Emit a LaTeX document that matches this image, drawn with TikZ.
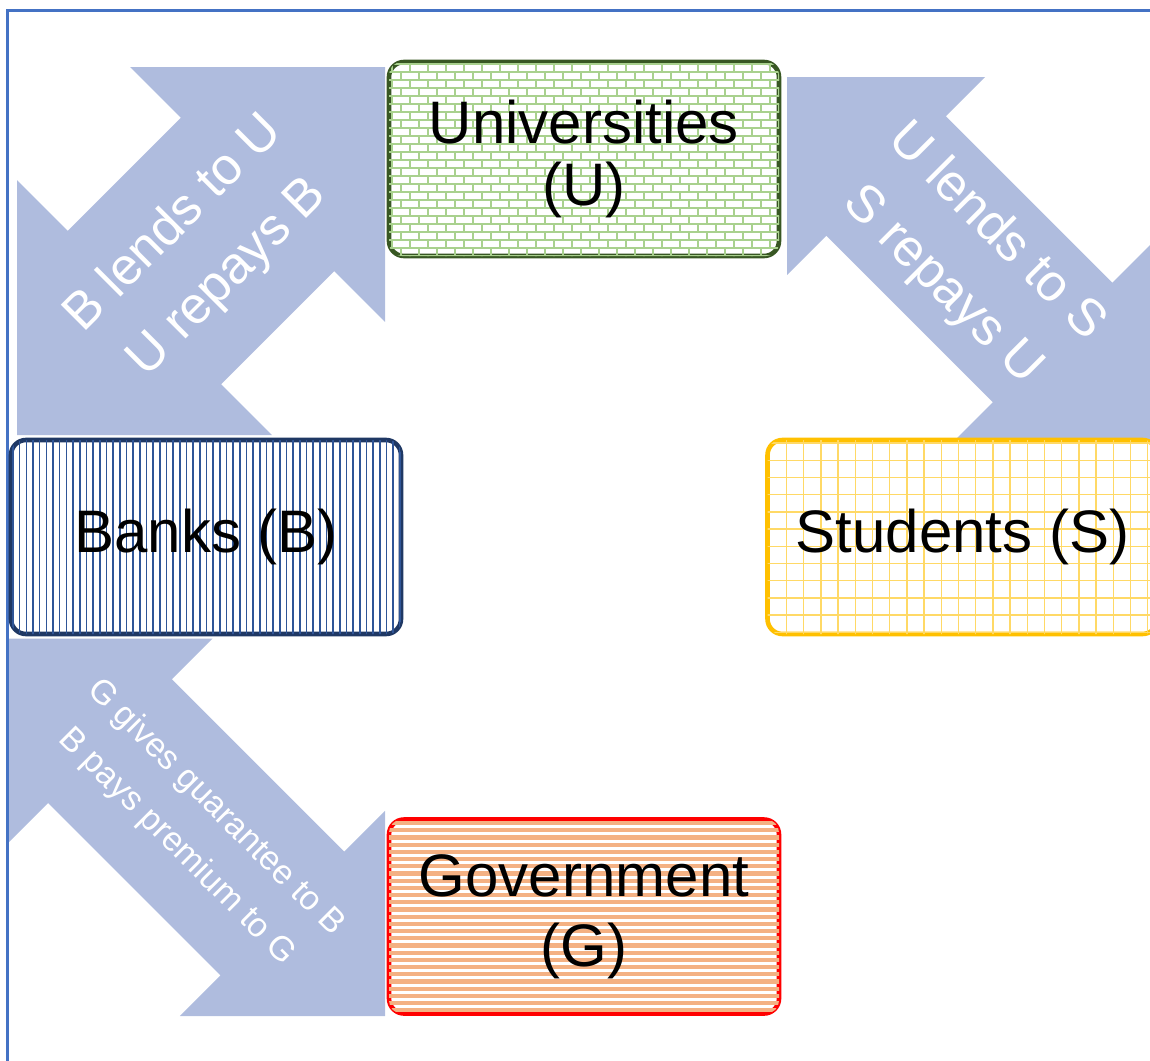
\documentclass[tikz,border=0pt]{standalone}
\usepackage{fontspec}
\setmainfont{Liberation Sans}
\usetikzlibrary{calc}

\definecolor{flowblue}{RGB}{175,188,222}
\definecolor{frameblue}{RGB}{68,114,196}
\definecolor{uniedge}{RGB}{56,87,35}
\definecolor{unibrick}{RGB}{169,209,142}
\definecolor{bankedge}{RGB}{31,56,100}
\definecolor{bankline}{RGB}{47,85,151}
\definecolor{studedge}{RGB}{255,192,0}
\definecolor{studgrid}{RGB}{255,217,102}
\definecolor{govedge}{RGB}{255,0,0}
\definecolor{govline}{RGB}{244,177,131}

\tikzset{
  party/.style={draw, fill=white, line width=2.3pt, rounded corners=7.5pt,
    minimum width=195pt, minimum height=97pt, inner sep=0pt,
    align=center, font=\fontsize{30}{31}\selectfont},
  flow/.style={fill=flowblue},
  flowtext/.style={text=white, align=center, font=\fontsize{26}{38}\selectfont},
  frame/.style={draw=frameblue, line width=1.1pt}
}

% double block arrow: tip, tip, head length, half shaft width
\newcommand{\twoway}[4]{%
  \coordinate (h1) at ($(#1)!#3!(#2)$);
  \coordinate (h2) at ($(#2)!#3!(#1)$);
  \fill[flow] (#1) -- ($(h1)!#3!90:(#2)$) -- ($(h1)!#4!90:(#2)$)
    -- ($(h2)!#4!-90:(#1)$) -- ($(h2)!#3!-90:(#1)$) -- (#2)
    -- ($(h2)!#3!90:(#1)$) -- ($(h2)!#4!90:(#1)$)
    -- ($(h1)!#4!-90:(#2)$) -- ($(h1)!#3!-90:(#2)$) -- cycle;
}
% clip to the inside of a box
\newcommand{\inbox}[1]{%
  \clip[rounded corners=6.4pt] ([shift={(1.15pt,1.15pt)}]#1.south west)
    rectangle ([shift={(-1.15pt,-1.15pt)}]#1.north east);
}

\begin{document}
\begin{tikzpicture}[x=0.5pt,y=-0.5pt]
  \useasboundingbox (0,0) rectangle (1150,1060);
  \clip (0,0) rectangle (1150,1060);

  % arrow tips
  \coordinate (bu1) at (385,67);
  \coordinate (bu2) at (17,435);
  \coordinate (us1) at (787,77);
  \coordinate (us2) at (1151.5,441.5);
  \coordinate (gb1) at (7.5,638.5);
  \coordinate (gb2) at (385,1016);

  \twoway{bu1}{bu2}{90.15pt}{54.25pt}
  \twoway{us1}{us2}{70pt}{42.25pt}
  \twoway{gb1}{gb2}{72.5pt}{43.75pt}

  \node[flowtext, rotate=45] (lendU) at ($(bu1)!0.5!(bu2)$) {B lends to U\\U repays B};
  \node[flowtext, rotate=-45] (lendS) at ($(us1)!0.5!(us2)$) {U lends to S\\S repays U};
  \node[flowtext, rotate=-45, font=\fontsize{17}{27.5}\selectfont] (guar)
    at ($(gb1)!0.5!(gb2)$) {G gives guarantee to B\\B pays premium to G};

  \draw[frame] (7.5,1100) -- (7.5,10.5) -- (1200,10.5);

  % the four parties
  \node[party, draw=uniedge] (uni) at (584,159) {};
  \node[party, draw=bankedge] (bank) at (206,537) {};
  \node[party, draw=studedge] (stud) at (962.5,537) {};
  \node[party, draw=govedge] (gov) at (584,916.5) {};

  % hatching inside the boxes
  \begin{scope}[draw=unibrick, line width=0.65pt]
    \inbox{uni}
    \foreach \y in {64,80,...,264} {
      \draw (380,\y) -- (790,\y) (380,\y+8) -- (790,\y+8);
      \foreach \x in {392,410,...,790} \draw (\x,\y) -- (\x,\y+8);
      \foreach \x in {383,401,...,790} \draw (\x,\y+8) -- (\x,\y+16);
    }
  \end{scope}
  \begin{scope}[draw=bankline, line width=0.8pt]
    \inbox{bank}
    \foreach \x in {13,19.67,...,405} \draw (\x,430) -- (\x,645);
  \end{scope}
  \begin{scope}[draw=studgrid, line width=0.7pt]
    \inbox{stud}
    \foreach \x in {786.5,803.7,...,1160} \draw (\x,430) -- (\x,645);
    \foreach \y in {443,460.2,...,645} \draw (760,\y) -- (1160,\y);
  \end{scope}
  \begin{scope}[draw=govline, line width=2.1pt]
    \inbox{gov}
    \foreach \y in {823,830.2,...,1020} \draw (380,\y) -- (790,\y);
  \end{scope}

  % names of the parties
  \node[party, draw=none, fill=none] at (uni) {Universities\\(U)};
  \node[party, draw=none, fill=none] at (bank) {Banks (B)};
  \node[party, draw=none, fill=none] at (stud) {Students (S)};
  \node[party, draw=none, fill=none, font=\fontsize{30}{35}\selectfont]
    at (gov) {Government\\(G)};
\end{tikzpicture}
\end{document}
